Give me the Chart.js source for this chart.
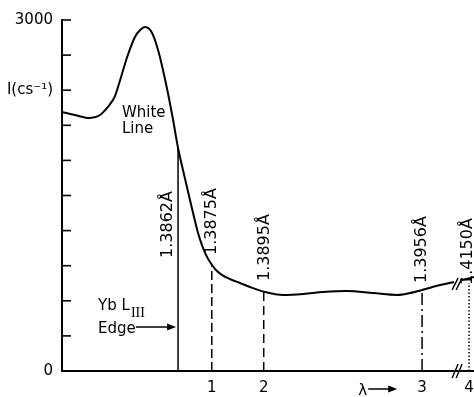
<!DOCTYPE html>
<html><head><meta charset="utf-8">
<script src="https://cdn.jsdelivr.net/npm/chart.js@4/dist/chart.umd.min.js"></script>
<style>html,body{margin:0;padding:0;background:#fff}canvas{display:block}</style>
</head><body>
<canvas id="c" width="474" height="397"></canvas>
<script>
// Curve samples: plotted wavelength position (Å) and intensity (counts/s)
// (points past the axis break are plotted at compressed positions)
const lambdaPos = [1.38173,1.38223,1.38281,1.38320,1.38343,1.38358,1.38377,1.38397,1.38424,1.38454,1.38474,1.38493,1.38520,1.38543,1.38562,1.38581,1.38601,1.38620,1.38639,1.38666,1.38697,1.38712,1.38724,1.38736,1.38751,1.38766,1.38790,1.38820,1.38859,1.38897,1.38955,1.39025,1.39102,1.39179,1.39271,1.39371,1.39464,1.39514,1.39560,1.39629,1.39683,1.39695,1.39714,1.39760];
const intensity = [2214,2188,2162,2188,2239,2280,2350,2487,2684,2855,2915,2940,2889,2744,2573,2376,2145,1906,1718,1462,1179,1077,1009,957,906,863,820,786,752,718,675,650,658,675,684,667,650,667,692,735,761,null,778,803];

// Wavelength markers
const markerPos = [1.3862, 1.3875, 1.3895, 1.3956, 1.39741]; // last one sits after the axis break
const markerLabels = ['1.3862Å','1.3875Å','1.3895Å','1.3956Å','1.4150Å'];
const markerTop = [1906, 906, 675, 692, 752];
const markerTickLabels = ['1','2','3','4'];

// Y-axis tick labels
const yTickLabels = {0:'0', 2400:'I(cs⁻¹)', 3000:'3000'};

const FONT = '"DejaVu Sans", sans-serif';

const curveData = lambdaPos.map((v,i)=>({x:v, y:intensity[i]}));
const dashes = [[], [9,4], [9,5], [12,4,2,4], [1.5,2]];
const markerSets = markerPos.map((p,i)=>({
  data:[{x:p,y:0},{x:p,y:markerTop[i]}],
  borderColor:'#000', borderWidth:1.5, borderDash:dashes[i],
  pointRadius:0, tension:0, fill:false
}));

const annot = {
  id:'annot',
  afterDraw(chart){
    const {ctx, chartArea:a, scales:{x, y}} = chart;
    ctx.save();
    ctx.strokeStyle='#000'; ctx.fillStyle='#000';
    // inward tick marks on y axis
    ctx.lineWidth = 1.6;
    y.ticks.forEach(t=>{
      const py = y.getPixelForValue(t.value);
      ctx.beginPath(); ctx.moveTo(a.left, py); ctx.lineTo(a.left+9, py); ctx.stroke();
    });
    // rotated wavelength labels
    const labelDx = [-10, 0, 1, 0, -1];
    const labelBase = [966, 991, 769, 752, 735];
    ctx.font = '16px ' + FONT;
    ctx.textAlign='left'; ctx.textBaseline='middle';
    markerLabels.forEach((s,i)=>{
      const px = x.getPixelForValue(markerPos[i]) + labelDx[i];
      const py = y.getPixelForValue(labelBase[i]);
      ctx.save(); ctx.translate(px, py); ctx.rotate(-Math.PI/2); ctx.fillText(s,0,0); ctx.restore();
    });
    // "White Line"
    ctx.font = '15px ' + FONT;
    ctx.textBaseline='alphabetic';
    const wx = x.getPixelForValue(1.38404);
    ctx.fillText('White', wx, y.getPixelForValue(2171));
    ctx.fillText('Line', wx, y.getPixelForValue(2034));
    // "Yb L_III Edge ->"
    const ex = x.getPixelForValue(1.38312);
    const yb = y.getPixelForValue(521);
    ctx.fillText('Yb L', ex, yb);
    const lw = ctx.measureText('Yb L').width;
    ctx.font = '14px "Liberation Serif", serif';
    ctx.fillText('III', ex + lw + 1, yb + 7);
    ctx.font = '15px ' + FONT;
    const eb = y.getPixelForValue(325);
    ctx.fillText('Edge', ex, eb);
    const ew = ctx.measureText('Edge').width;
    const ay = y.getPixelForValue(376);
    const axEnd = x.getPixelForValue(markerPos[0]) - 2;
    ctx.lineWidth = 1.5;
    ctx.beginPath(); ctx.moveTo(ex + ew, ay); ctx.lineTo(axEnd - 6, ay); ctx.stroke();
    ctx.beginPath(); ctx.moveTo(axEnd, ay); ctx.lineTo(axEnd-9, ay-3.5); ctx.lineTo(axEnd-9, ay+3.5); ctx.closePath(); ctx.fill();
    // lambda arrow under axis
    const lx = x.getPixelForValue(1.39314);
    const lb = a.bottom + 24;
    ctx.fillText('λ', lx, lb);
    const la = a.bottom + 18;
    const lxs = lx + 10, lxe = lx + 39;
    ctx.beginPath(); ctx.moveTo(lxs, la); ctx.lineTo(lxe-6, la); ctx.stroke();
    ctx.beginPath(); ctx.moveTo(lxe, la); ctx.lineTo(lxe-9, la-3.5); ctx.lineTo(lxe-9, la+3.5); ctx.closePath(); ctx.fill();
    // axis break marks
    const bx = x.getPixelForValue(1.39695);
    const slash = (cx, cy, h)=>{
      [-2, 2].forEach(d=>{
        ctx.beginPath(); ctx.moveTo(cx+d-3, cy+h); ctx.lineTo(cx+d+3, cy-h); ctx.stroke();
      });
    };
    ctx.lineWidth = 1.4;
    slash(bx, a.bottom, 7);
    slash(bx, y.getPixelForValue(745), 6);
    ctx.restore();
  }
};

new Chart(document.getElementById('c'), {
  type:'line',
  data:{ datasets:[
    { data:curveData, borderColor:'#000', borderWidth:2, pointRadius:0, cubicInterpolationMode:'monotone', spanGaps:false, fill:false },
    ...markerSets
  ]},
  options:{
    responsive:false, devicePixelRatio:1, animation:false,
    layout:{ padding:{ top:20, right:0, left:0, bottom:0 } },
    plugins:{ legend:{display:false}, tooltip:{enabled:false} },
    scales:{
      x:{
        type:'linear', min:1.38173, max:1.39760,
        grid:{ drawOnChartArea:false, drawTicks:false },
        border:{ display:true, color:'#000', width:2 },
        afterBuildTicks: s => { s.ticks = markerPos.slice(1).map(v=>({value:v})); },
        afterFit: s => { s.height = 26; s.paddingLeft = 0; s.paddingRight = 0; },
        ticks:{ autoSkip:false, maxRotation:0, padding:8, color:'#000',
          font:{ family:FONT, size:15 },
          callback:(v,i)=> markerTickLabels[i] }
      },
      y:{
        min:0, max:3000,
        grid:{ drawOnChartArea:false, drawTicks:false },
        border:{ display:true, color:'#000', width:2 },
        afterFit: s => { s.width = 62; s.paddingTop = 0; s.paddingBottom = 0; },
        ticks:{ stepSize:300, autoSkip:false, padding:9, color:'#000',
          font:{ family:FONT, size:15 },
          callback: v => (yTickLabels[v] !== undefined ? yTickLabels[v] : '') }
      }
    }
  },
  plugins:[annot]
});
</script>
</body></html>
